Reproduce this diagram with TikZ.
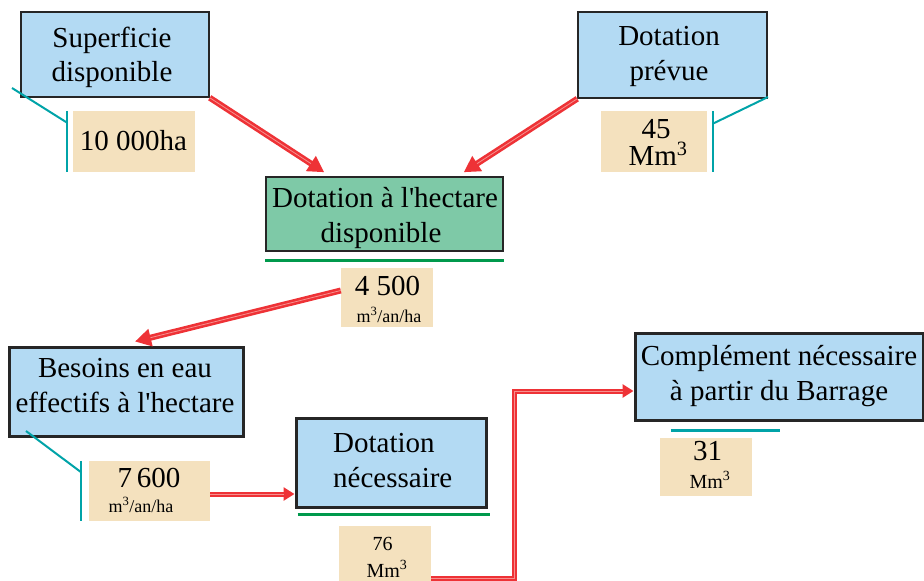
\documentclass[tikz,border=0pt]{standalone}
\usepackage{fontspec}
\setmainfont{Liberation Serif}
\usetikzlibrary{arrows.meta,calc}
\definecolor{boxblue}{HTML}{B3DAF3}
\definecolor{boxgreen}{HTML}{7EC9A7}
\definecolor{valbeige}{HTML}{F4E1BE}
\definecolor{rulegreen}{HTML}{00994C}
\definecolor{tealline}{HTML}{00A3A8}
\definecolor{arrred}{HTML}{EE3236}
\definecolor{arrpink}{HTML}{F6908E}
\newcommand{\apos}{\textquotesingle}
\begin{document}
\begin{tikzpicture}[x=1pt,y=-1pt,
  bigtext/.style={font=\fontsize{29}{34}\selectfont, inner sep=0pt, anchor=base},
  numtext/.style={font=\fontsize{29}{34}\selectfont, inner sep=0pt, anchor=base},
  unittext/.style={font=\fontsize{18}{20}\selectfont, inner sep=0pt, anchor=base},
  midtext/.style={font=\fontsize{20}{24}\selectfont, inner sep=0pt, anchor=base},
  thinbox/.style={draw=black!85, line width=1.5pt, fill=boxblue, inner sep=0pt},
  thickbox/.style={draw=black!85, line width=3pt, fill=boxblue, inner sep=0pt},
  valbox/.style={fill=valbeige, inner sep=0pt},
  tealrule/.style={draw=tealline, line width=2pt},
  greenrule/.style={draw=rulegreen, line width=3pt},
  redarrow/.style={draw=arrred, line width=6pt, -{Triangle[length=16pt,width=17pt]},
    postaction={draw=arrpink, line width=0.8pt, -, shorten >=16pt}},
  redarrowsmall/.style={draw=arrred, line width=5pt, -{Triangle[length=11pt,width=13pt]},
    postaction={draw=arrpink, line width=0.8pt, -, shorten >=11pt}}
]
\useasboundingbox (0,0) rectangle (924,581);

% main boxes
\node[thinbox, minimum width=188, minimum height=85] (sup) at (115,54.5) {};
\node[thinbox, minimum width=189, minimum height=86] (prev) at (672.5,55) {};
\node[thinbox, fill=boxgreen, minimum width=237, minimum height=74] (hect) at (384.5,214) {};
\node[thickbox, minimum width=234, minimum height=89] (bes) at (126,391.5) {};
\node[thickbox, minimum width=190, minimum height=89] (nec) at (391,462.5) {};
\node[thickbox, minimum width=288, minimum height=87] (comp) at (779,376.5) {};

% box captions
\node[bigtext] (supA) at (112,47) {Superficie};
\node[bigtext] (supB) at (112,81) {disponible};
\node[bigtext] (prevA) at (669,45) {Dotation};
\node[bigtext] (prevB) at (669,80) {prévue};
\node[bigtext] (hectA) at (385,207) {Dotation à l\apos hectare};
\node[bigtext] (hectB) at (381,242) {disponible};
\node[bigtext] (besA) at (125,377) {Besoins en eau};
\node[bigtext] (besB) at (125,412) {effectifs à l\apos hectare};
\node[bigtext, anchor=base west] (necA) at (333,452) {Dotation};
\node[bigtext, anchor=base west] (necB) at (333,487) {nécessaire};
\node[bigtext] (compA) at (779,365) {Complément nécessaire};
\node[bigtext] (compB) at (779,400) {à partir du Barrage};

% value boxes
\node[valbox, minimum width=122, minimum height=61] (v1) at (134,141.5) {};
\node[valbox, minimum width=106, minimum height=61] (v2) at (654,141.5) {};
\node[valbox, minimum width=92, minimum height=59] (v3) at (387,297.5) {};
\node[valbox, minimum width=121, minimum height=60] (v4) at (149.5,491) {};
\node[valbox, minimum width=92, minimum height=55] (v5) at (385,553.5) {};
\node[valbox, minimum width=92, minimum height=58] (v6) at (706,467) {};

% values
\node[numtext] (v1A) at (133.5,150) {10 000ha};
\node[numtext] (v2A) at (656,138) {45};
\node[numtext] (v2B) at (658,165) {Mm\textsuperscript{3}};
\node[numtext] (v3A) at (387.5,295) {4 500};
\node[unittext] (v3B) at (389,322) {m\textsuperscript{3}/an/ha};
\node[numtext] (v4A) at (149,487) {7\,600};
\node[unittext] (v4B) at (141,512) {m\textsuperscript{3}/an/ha};
\node[midtext] (v5A) at (382.5,550) {76};
\node[midtext] (v5B) at (387,577) {Mm\textsuperscript{3}};
\node[numtext] (v6A) at (707.5,460) {31};
\node[midtext] (v6B) at (710,488) {Mm\textsuperscript{3}};

% teal brackets and underline
\coordinate (t1) at (12,88);
\coordinate (t2) at (768,97);
\coordinate (t3) at (26,431);
\draw[tealrule] (t1) -- ($(v1.west)+(-6,-19)$);
\draw[tealrule] ($(v1.north west)+(-6,0)$) -- ($(v1.south west)+(-6,0)$);
\draw[tealrule] (t2) -- ($(v2.east)+(6,-18)$);
\draw[tealrule] ($(v2.north east)+(6,0)$) -- ($(v2.south east)+(6,0)$);
\draw[tealrule] (t3) -- ($(v4.west)+(-8,-19)$);
\draw[tealrule] ($(v4.north west)+(-8,0)$) -- ($(v4.south west)+(-8,0)$);
\draw[draw=tealline, line width=3pt] ($(comp.south west)+(37,9)$) -- ($(comp.south west)+(146,9)$);

% green underlines
\draw[greenrule] ($(hect.south west)+(0,9)$) -- ($(hect.south east)+(0,9)$);
\draw[greenrule] ($(nec.south west)+(3,6)$) -- ($(nec.south east)+(2,6)$);

% red flow arrows
\draw[redarrow] (sup.south east) -- ($(hect.north west)+(59,-4)$);
\draw[redarrow] (prev.south west) -- ($(hect.north east)+(-40,-4)$);
\draw[redarrow] ($(v3.west)+(0,-7)$) -- ($(bes.north)+(9,-4)$);
\draw[redarrowsmall] ($(v4.east)+(0,3)$) coordinate (a4s) -- (a4s -| nec.west);
\coordinate (elbow) at (514,391);
\draw[redarrowsmall] ($(v5.south east)+(0,-3)$) -| (elbow) -- (elbow -| comp.west);
\end{tikzpicture}
\end{document}
